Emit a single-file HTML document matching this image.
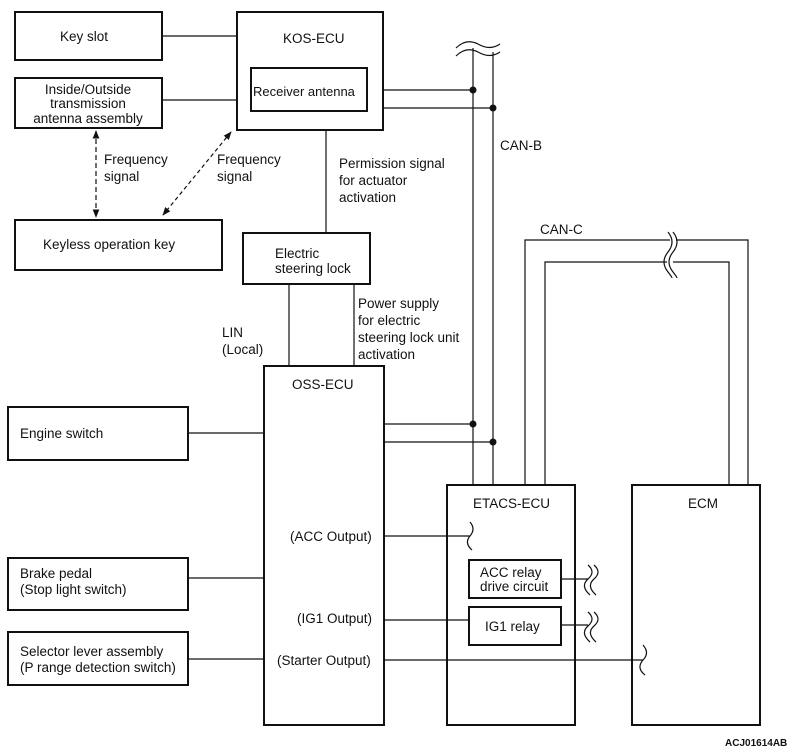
<!DOCTYPE html>
<html><head><meta charset="utf-8"><style>
html,body{margin:0;padding:0;background:#fff;}
svg{display:block;}
text{font-family:"Liberation Sans",sans-serif;font-size:13.5px;fill:#111;}
.b{fill:none;stroke:#111;stroke-width:2;}
.l{fill:none;stroke:#111;stroke-width:1.2;}
</style></head><body>
<svg width="802" height="756" viewBox="0 0 802 756" xmlns="http://www.w3.org/2000/svg">
<defs>
<marker id="ah" viewBox="0 0 10 10" refX="9" refY="5" markerWidth="7" markerHeight="7" orient="auto-start-reverse"><path d="M0,1 L10,5 L0,9 z" fill="#111"/></marker>
</defs>
<rect class="b" x="15" y="12" width="147" height="48"/>
<text x="60" y="41">Key slot</text>
<rect class="b" x="15" y="78" width="147" height="50"/>
<text x="88" y="94" text-anchor="middle">Inside/Outside</text>
<text x="88" y="108" text-anchor="middle">transmission</text>
<text x="88" y="123" text-anchor="middle">antenna assembly</text>
<rect class="b" x="237" y="12" width="146" height="118"/>
<text x="283" y="43">KOS-ECU</text>
<rect class="b" x="251" y="68" width="116" height="43"/>
<text x="253" y="96" style="font-size:13px">Receiver antenna</text>
<rect class="b" x="15" y="220" width="207" height="50"/>
<text x="43" y="249">Keyless operation key</text>
<rect class="b" x="243" y="233" width="127" height="51"/>
<text x="275" y="258">Electric</text>
<text x="275" y="273">steering lock</text>
<rect class="b" x="264" y="366" width="120" height="359"/>
<text x="292" y="389">OSS-ECU</text>
<text x="290" y="541">(ACC Output)</text>
<text x="297" y="623">(IG1 Output)</text>
<text x="277" y="665">(Starter Output)</text>
<rect class="b" x="8" y="407" width="180" height="53"/>
<text x="20" y="438">Engine switch</text>
<rect class="b" x="8" y="558" width="180" height="52"/>
<text x="20" y="578">Brake pedal</text>
<text x="20" y="594">(Stop light switch)</text>
<rect class="b" x="8" y="632" width="180" height="53"/>
<text x="20" y="656">Selector lever assembly</text>
<text x="20" y="672">(P range detection switch)</text>
<rect class="b" x="447" y="485" width="128" height="240"/>
<text x="473" y="508">ETACS-ECU</text>
<rect class="b" x="469" y="560" width="92" height="38"/>
<text x="480" y="577">ACC relay</text>
<text x="480" y="591">drive circuit</text>
<rect class="b" x="469" y="607" width="92" height="38"/>
<text x="485" y="631">IG1 relay</text>
<rect class="b" x="632" y="485" width="128" height="240"/>
<text x="688" y="508">ECM</text>
<path class="l" d="M162,36H237 M162,100H237 M326,130V233 M289,284V366 M354,284V366"/>
<path class="l" d="M383,90H473 M383,108H493 M383,424H473 M383,442H493"/>
<path class="l" d="M473,48V485 M493,52V485"/>
<circle cx="473" cy="90" r="3.5" fill="#111"/><circle cx="493" cy="108" r="3.5" fill="#111"/>
<circle cx="473" cy="424" r="3.5" fill="#111"/><circle cx="493" cy="442" r="3.5" fill="#111"/>
<path class="l" d="M456,48 q10,-10 22,-4 q12,7 22,0 M456,56 q10,-10 22,-4 q12,7 22,0"/>
<text x="500" y="150">CAN-B</text>
<path class="l" d="M525,485V240H670 M676,240H748V485 M545,485V262H667 M673,262H729V485"/>
<path class="l" d="M673,232 q8,10 0,20 q-8,10 0,20 q4,5 4,6 M668,232 q8,10 0,20 q-8,10 0,20 q4,5 4,6"/>
<text x="540" y="234">CAN-C</text>
<path class="l" d="M188,433H264 M188,578H264 M188,659H264"/>
<path class="l" d="M384,536H470 M470,522 q6,7 0,14 q-6,7 2,14"/>
<path class="l" d="M384,620H469 M561,579H588 M561,625H588 M384,660H643"/>
<path class="l" d="M588,565 q8,7 0,14 q-8,7 2,16 M594,565 q8,7 0,14 q-8,7 2,16 M588,612 q8,7 0,14 q-8,7 2,16 M594,612 q8,7 0,14 q-8,7 2,16 M643,645 q7,8 0,15 q-7,8 2,15"/>
<path class="l" d="M96,131V217" stroke-dasharray="5,3" marker-start="url(#ah)" marker-end="url(#ah)"/>
<path class="l" d="M231,132L163,215" stroke-dasharray="4,3" marker-start="url(#ah)" marker-end="url(#ah)"/>
<text x="104" y="164">Frequency</text><text x="104" y="181">signal</text>
<text x="217" y="164">Frequency</text><text x="217" y="181">signal</text>
<text x="339" y="168">Permission signal</text>
<text x="339" y="185">for actuator</text>
<text x="339" y="202">activation</text>
<text x="358" y="308">Power supply</text>
<text x="358" y="325">for electric</text>
<text x="358" y="342">steering lock unit</text>
<text x="358" y="359">activation</text>
<text x="222" y="337">LIN</text>
<text x="222" y="354">(Local)</text>
<text x="725" y="746" style="font-size:10px;font-weight:bold">ACJ01614AB</text>
</svg>
</body></html>
